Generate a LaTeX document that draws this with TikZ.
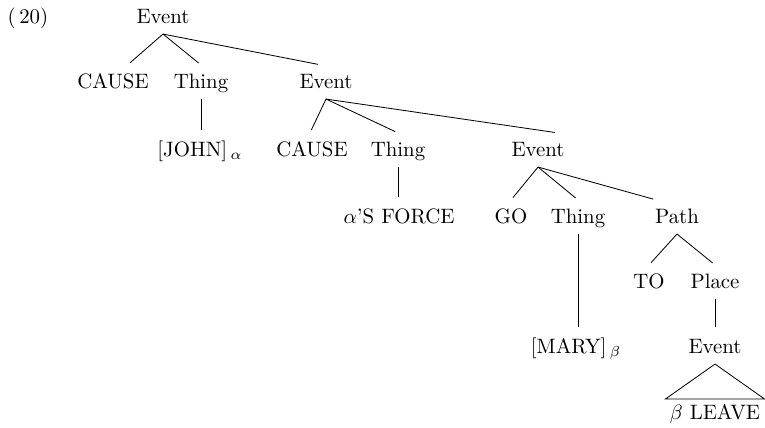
\documentclass[tikz,border=0pt]{standalone}
\usepackage{tikz}
\usetikzlibrary{positioning}
\usepackage{amsmath}

\begin{document}
\begin{tikzpicture}[x=0.48pt, y=-0.48pt,
    every node/.style={inner xsep=2pt, inner ysep=4pt, text height=1.6ex, text depth=.25ex},
    branch/.style={shorten >=1.5pt}]
    \useasboundingbox (0,0) rectangle (765,427);

    \node (num) at (28,17) {(\,20)};
    \node (event) at (163,17) {Event};

    \node (cause) at (113,82) {CAUSE};
    \node (thing) at (201,82) {Thing};
    \node (eventb) at (326,82) {Event};

    \node (john) at (200,150) {[JOHN]\,$_{\alpha}$};
    \node (causeb) at (312,150) {CAUSE};
    \node (thingb) at (398,150) {Thing};
    \node (eventc) at (538,150) {Event};

    \node (force) at (399,217) {$\alpha$'S FORCE};
    \node (go) at (511,217) {GO};
    \node (thingc) at (578,217) {Thing};
    \node (path) at (677,217) {Path};

    \node (to) at (649,282) {TO};
    \node (place) at (715,282) {Place};

    \node (mary) at (576,347) {[MARY]\,$_{\beta}$};
    \node (eventd) at (715,347) {Event};

    \node (leave) at (715,413) {$\beta$\ LEAVE};

    \draw[branch] (event.south) -- ([xshift=7pt]cause.north);
    \draw[branch] (event.south) -- (thing.north);
    \draw[branch] (event.south) -- ([xshift=-2.4pt]eventb.north);

    \draw[branch] (thing.south) -- (john.north -| thing.south);

    \draw[branch] (eventb.south) -- ([xshift=-1pt]causeb.north);
    \draw[branch] (eventb.south) -- (thingb.north);
    \draw[branch] (eventb.south) -- ([xshift=9.6pt]eventc.north);

    \draw[branch] (thingb.south) -- (force.north -| thingb.south);

    \draw[branch] (eventc.south) -- (go.north);
    \draw[branch] (eventc.south) -- (thingc.north);
    \draw[branch] (eventc.south) -- ([xshift=-10pt]path.north);

    \draw[branch] (thingc.south) -- (mary.north -| thingc.south);

    \draw[branch] (path.south) -- (to.north);
    \draw[branch] (path.south) -- (place.north);

    \draw[branch] (place.south) -- (eventd.north);

    \draw (eventd.south) -- ([yshift=-1.5pt]leave.north west) -- ([yshift=-1.5pt]leave.north east) -- cycle;
\end{tikzpicture}
\end{document}
